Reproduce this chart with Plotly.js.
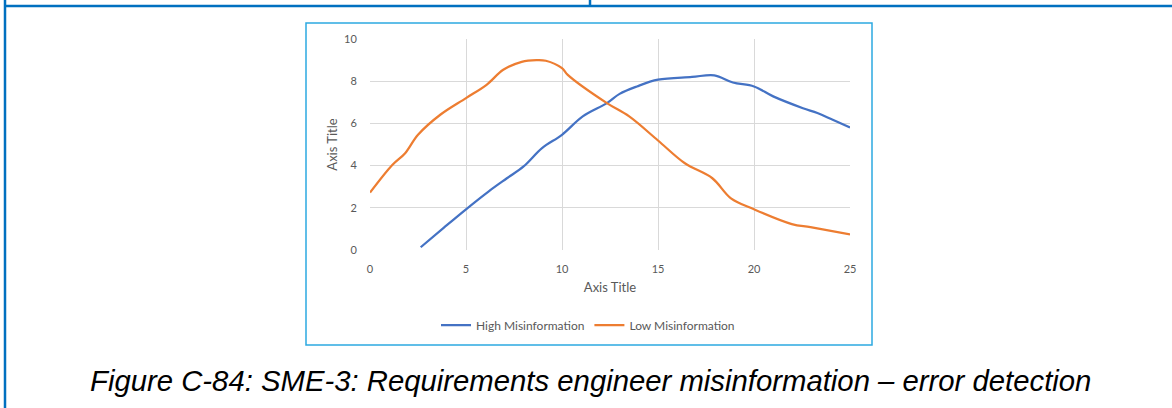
<!DOCTYPE html>
<html>
<head>
<meta charset="utf-8">
<script src="https://cdn.plot.ly/plotly-3.0.1.min.js"></script>
<style>
  html, body { margin: 0; padding: 0; background: #ffffff; }
  #chart { width: 1172px; height: 408px; }
</style>
</head>
<body>
<div id="chart"></div>
<script>
// Series data
const highX = [2.64, 3.85, 5.0, 6.17, 7.13, 8.0, 8.96, 10.0, 11.08, 12.34, 13.0, 13.9, 15.0, 16.77, 17.93, 18.9, 20.0, 21.0, 22.55, 23.3, 24.1, 25.0];
const highY = [0.13, 1.06, 1.93, 2.77, 3.4, 3.96, 4.83, 5.46, 6.33, 6.96, 7.4, 7.75, 8.07, 8.2, 8.28, 7.94, 7.75, 7.28, 6.72, 6.49, 6.17, 5.81];
const lowX = [0, 1.16, 1.83, 2.5, 3.66, 5.0, 6.07, 6.94, 7.9, 8.67, 9.16, 10.0, 10.3, 12.34, 13.5, 15.0, 16.4, 17.83, 18.8, 20.0, 21.97, 22.94, 25.0];
const lowY = [2.72, 4.03, 4.59, 5.46, 6.41, 7.2, 7.83, 8.54, 8.92, 9.0, 8.97, 8.62, 8.3, 6.96, 6.33, 5.19, 4.11, 3.4, 2.45, 1.93, 1.23, 1.08, 0.74];
const seriesNames = ["High Misinformation", "Low Misinformation"];
const xTicks = [0, 5, 10, 15, 20, 25];
const yTicks = [0, 2, 4, 6, 8, 10];
const axisTitleText = "Axis Title";
const captionText = "Figure C-84: SME-3: Requirements engineer misinformation \u2013 error detection";

// Geometry helpers (pixel -> paper)
const W = 1172, H = 408;
const L = 370, R = 850, T = 39, B = 250;
const px = v => (v - L) / (R - L);
const py = v => (B - v) / (B - T);

const tickFont = { family: "Lato, 'Open Sans', sans-serif", size: 11, color: "#595959" };
const titleFont = { family: "Lato, 'Open Sans', sans-serif", size: 13, color: "#595959" };
const legendFont = { family: "Lato, 'Open Sans', sans-serif", size: 12, color: "#595959" };

const traces = [
  { x: highX, y: highY, name: seriesNames[0], type: "scatter", mode: "lines",
    line: { color: "#4472C4", width: 2.25, shape: "spline", smoothing: 1 } },
  { x: lowX, y: lowY, name: seriesNames[1], type: "scatter", mode: "lines",
    line: { color: "#ED7D31", width: 2.25, shape: "spline", smoothing: 1 } }
];

const layout = {
  width: W, height: H,
  margin: { l: L, r: W - R, t: T, b: H - B, pad: 0 },
  paper_bgcolor: "#ffffff", plot_bgcolor: "#ffffff",
  showlegend: true,
  legend: {
    orientation: "h", x: px(588), xanchor: "center", y: py(325), yanchor: "middle",
    font: legendFont, itemwidth: 30, tracegroupgap: 0, bgcolor: "rgba(0,0,0,0)"
  },
  xaxis: {
    range: [0, 25], tickvals: xTicks, ticktext: xTicks.map(String),
    showgrid: true, gridcolor: "#d9d9d9", gridwidth: 1,
    zeroline: false, showline: false, ticks: "outside", ticklen: 9, tickcolor: "rgba(0,0,0,0)",
    tickfont: tickFont, fixedrange: true,
    title: { text: axisTitleText, font: titleFont, standoff: 8 }
  },
  yaxis: {
    range: [0, 10], tickvals: yTicks, ticktext: yTicks.map(String),
    showgrid: true, gridcolor: "#d9d9d9", gridwidth: 1,
    zeroline: false, showline: false, ticks: "outside", ticklen: 10, tickcolor: "rgba(0,0,0,0)",
    tickfont: tickFont, fixedrange: true,
    title: { text: axisTitleText, font: titleFont, standoff: 3 }
  },
  shapes: [
    // chart frame
    { type: "rect", xref: "paper", yref: "paper", x0: px(306), x1: px(872), y0: py(23), y1: py(345),
      line: { color: "#2DA9E1", width: 1.5 }, fillcolor: "rgba(0,0,0,0)", layer: "below" },
    // page table borders
    { type: "line", xref: "paper", yref: "paper", x0: px(4), x1: px(1172), y0: py(6), y1: py(6),
      line: { color: "#0070C0", width: 2.5 } },
    { type: "line", xref: "paper", yref: "paper", x0: px(5), x1: px(5), y0: py(0), y1: py(408),
      line: { color: "#0070C0", width: 2.5 } },
    { type: "line", xref: "paper", yref: "paper", x0: px(590), x1: px(590), y0: py(0), y1: py(6),
      line: { color: "#0070C0", width: 2.5 } }
  ],
  annotations: [
    { text: captionText, xref: "paper", yref: "paper", x: px(590), y: py(380), xanchor: "center", yanchor: "middle",
      showarrow: false, font: { family: "'Liberation Sans', Arial, sans-serif", size: 29.3, color: "#000000", style: "italic" } }
  ]
};

Plotly.newPlot("chart", traces, layout, { displayModeBar: false, staticPlot: true });
</script>
</body>
</html>
